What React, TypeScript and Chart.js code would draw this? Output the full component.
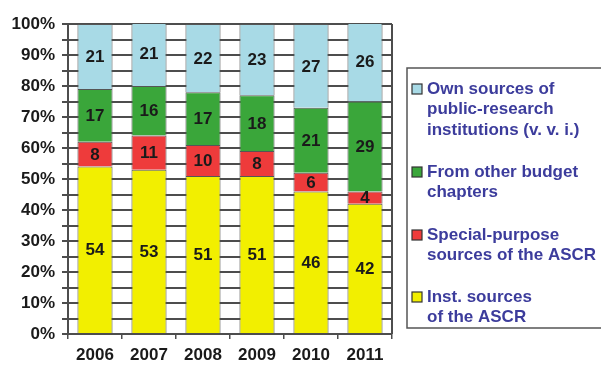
import React, { useEffect, useRef } from "react";
import { Chart, registerables } from "chart.js";

Chart.register(...registerables);

const years = ["2006", "2007", "2008", "2009", "2010", "2011"];
const instSources = [54, 53, 51, 51, 46, 42];
const specialPurpose = [8, 11, 10, 8, 6, 4];
const otherBudget = [17, 16, 17, 18, 21, 29];
const ownSources = [21, 21, 22, 23, 27, 26];

const legendLabels: { color: string; lines: string[] }[] = [
  { color: "#a8dae6", lines: ["Own sources of", "public-research", "institutions (v. v. i.)"] },
  { color: "#3aa63a", lines: ["From other budget", "chapters"] },
  { color: "#ee3b3b", lines: ["Special-purpose", "sources of the ASCR"] },
  { color: "#f2ef00", lines: ["Inst. sources", "of the ASCR"] },
];

const FONT = "'Liberation Sans', Arial, sans-serif";
const GRID = "#4d4d4d";

const valueLabels = {
  id: "valueLabels",
  afterDatasetsDraw(chart: any) {
    const ctx = chart.ctx;
    ctx.save();
    ctx.font = `bold 17px ${FONT}`;
    ctx.fillStyle = "#1a1a1a";
    ctx.textAlign = "center";
    ctx.textBaseline = "middle";
    chart.data.datasets.forEach((ds: any, i: number) => {
      const meta = chart.getDatasetMeta(i);
      meta.data.forEach((el: any, j: number) => {
        const y = (el.y + el.base) / 2;
        ctx.fillText(String(ds.data[j]), el.x, y + 1);
      });
    });
    ctx.restore();
  },
};

const frameAndLegend = {
  id: "frameAndLegend",
  afterDraw(chart: any) {
    const ctx = chart.ctx;
    const a = chart.chartArea;
    ctx.save();
    ctx.strokeStyle = GRID;
    ctx.lineWidth = 2;
    ctx.beginPath();
    ctx.moveTo(a.right, a.top);
    ctx.lineTo(a.right, a.bottom);
    ctx.stroke();

    // legend box
    const bx = 407;
    const by = 68;
    ctx.lineWidth = 1.5;
    ctx.strokeStyle = "#555";
    ctx.strokeRect(bx, by, 210, 260);

    const starts = [89, 172, 235, 297];
    const lh = 20.5;
    ctx.font = `bold 17px ${FONT}`;
    ctx.textBaseline = "middle";
    ctx.textAlign = "left";
    legendLabels.forEach((item, i) => {
      const y0 = starts[i];
      ctx.fillStyle = item.color;
      ctx.fillRect(412, y0 - 5, 10, 10);
      ctx.strokeStyle = "#333";
      ctx.lineWidth = 1.2;
      ctx.strokeRect(412, y0 - 5, 10, 10);
      ctx.fillStyle = "#3c3c9c";
      item.lines.forEach((ln, k) => {
        ctx.fillText(ln, 427, y0 + k * lh);
      });
    });
    ctx.restore();
  },
};

export default function App() {
  const ref = useRef<HTMLCanvasElement | null>(null);

  useEffect(() => {
    document.body.style.margin = "0";
    const canvas = ref.current!;
    const mk = (label: string, data: number[], color: string) => ({
      label,
      data,
      backgroundColor: color,
      borderColor: "#555",
      borderWidth: 1,
      barPercentage: 0.65,
      categoryPercentage: 1,
    });
    const chart = new Chart(canvas, {
      type: "bar",
      data: {
        labels: years,
        datasets: [
          mk("Inst. sources of the ASCR", instSources, legendLabels[3].color),
          mk("Special-purpose sources of the ASCR", specialPurpose, legendLabels[2].color),
          mk("From other budget chapters", otherBudget, legendLabels[1].color),
          mk("Own sources of public-research institutions (v. v. i.)", ownSources, legendLabels[0].color),
        ],
      },
      options: {
        animation: false,
        responsive: false,
        maintainAspectRatio: false,
        layout: { padding: { top: 24, right: 209, left: 0, bottom: 0 } },
        plugins: {
          legend: { display: false },
          tooltip: { enabled: false },
        },
        scales: {
          x: {
            stacked: true,
            grid: {
              drawOnChartArea: false,
              drawTicks: true,
              tickLength: 5,
              color: GRID,
              lineWidth: 1.5,
            },
            border: { display: true, color: GRID, width: 2 },
            ticks: {
              color: "#1a1a1a",
              font: { family: FONT, size: 17, weight: "bold" },
              padding: 6,
            },
            afterFit(scale: any) {
              scale.height = 31;
            },
          },
          y: {
            stacked: true,
            min: 0,
            max: 100,
            grid: {
              color: GRID,
              lineWidth: 2,
              tickLength: 6,
            },
            border: { display: true, color: GRID, width: 2 },
            ticks: {
              stepSize: 5,
              autoSkip: false,
              color: "#1a1a1a",
              font: { family: FONT, size: 17, weight: "bold" },
              padding: 7,
              callback: (v: any) => (Number(v) % 10 === 0 ? `${v}%` : ""),
            },
            afterFit(scale: any) {
              scale.width = 68;
            },
          },
        },
      },
      plugins: [valueLabels, frameAndLegend],
    });
    return () => chart.destroy();
  }, []);

  return (
    <canvas
      ref={ref}
      width={601}
      height={365}
      style={{ display: "block", width: 601, height: 365 }}
    />
  );
}
